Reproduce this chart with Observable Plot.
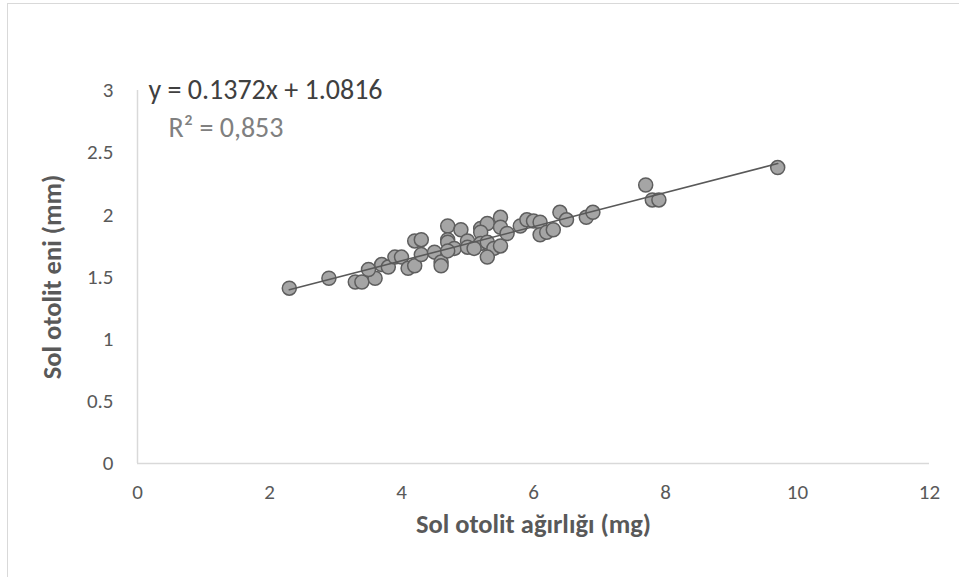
<!DOCTYPE html>
<html>
<head>
<meta charset="utf-8">
<script src="https://cdn.jsdelivr.net/npm/d3@7"></script>
<script src="https://cdn.jsdelivr.net/npm/@observablehq/plot@0.6"></script>
<style>
  html, body { margin: 0; padding: 0; background: #fff; overflow: hidden; }
  #wrap { position: relative; width: 959px; height: 577px; }
  #frame { position: absolute; left: 7px; top: 3px; width: 2000px; height: 2000px;
           border-left: 1.5px solid #d9d9d9; border-top: 1.5px solid #d9d9d9; pointer-events: none; }
  #chart { position: absolute; left: 0; top: 0; }
</style>
</head>
<body>
<div id="wrap"><div id="frame"></div><div id="chart"></div></div>
<script>
// Sol otolit ağırlığı (mg)
const weight = [2.3, 2.9, 3.3, 3.4, 3.6, 3.5, 3.7, 3.8, 3.9, 4.0, 4.1, 4.2, 4.2, 4.3, 4.3, 4.5, 4.6, 4.6,
  4.7, 4.7, 4.9, 4.7, 4.8, 5.0, 5.0, 5.2, 5.3, 5.5, 5.5, 5.2, 5.2, 5.3, 5.4, 5.5, 5.3, 5.6, 5.8, 5.9,
  6.0, 6.1, 6.1, 6.2, 6.3, 6.4, 6.5, 6.8, 6.9, 7.7, 7.8, 7.9, 9.7, 4.7, 5.1];
// Sol otolit eni (mm)
const width = [1.41, 1.49, 1.46, 1.46, 1.49, 1.56, 1.60, 1.58, 1.66, 1.66, 1.57, 1.59, 1.79, 1.80, 1.68, 1.70, 1.62, 1.59,
  1.91, 1.80, 1.88, 1.78, 1.73, 1.79, 1.74, 1.89, 1.93, 1.98, 1.90, 1.86, 1.77, 1.78, 1.73, 1.75, 1.66, 1.85, 1.91, 1.96,
  1.95, 1.94, 1.84, 1.86, 1.88, 2.02, 1.96, 1.98, 2.02, 2.24, 2.12, 2.12, 2.38, 1.71, 1.73];
const slope = 0.1372;
const intercept = 1.0816;
const r2Text = "R² = 0,853";
const xTicks = [0, 2, 4, 6, 8, 10, 12];
const yTicks = [0, 0.5, 1, 1.5, 2, 2.5, 3];
const xTitle = "Sol otolit ağırlığı (mg)";
const yTitle = "Sol otolit eni (mm)";

const points = weight.map((w, i) => ({x: w, y: width[i]}));
const xMin = d3.min(weight), xMax = d3.max(weight);
const trend = [xMin, xMax].map(x => ({x, y: slope * x + intercept}));
const eqText = `y = ${slope}x + ${intercept}`;

const FONT = "Carlito, Calibri, 'Open Sans', sans-serif";

const chart = Plot.plot({
  width: 959,
  height: 577,
  marginLeft: 137,
  marginRight: 30,
  marginTop: 90,
  marginBottom: 114,
  style: {fontFamily: FONT, fontSize: "21px", color: "#595959", background: "transparent"},
  x: {domain: [0, 12]},
  y: {domain: [0, 3]},
  marks: [
    Plot.axisX({ticks: xTicks, tickFormat: d => String(d), tickSize: 0, tickPadding: 21, label: null,
      fontSize: 21, color: "#595959", fontFamily: FONT}),
    Plot.axisY({ticks: yTicks, tickFormat: d => String(d), tickSize: 0, tickPadding: 24, label: null,
      fontSize: 21, color: "#595959", fontFamily: FONT}),
    Plot.ruleY([0], {stroke: "#d9d9d9", strokeWidth: 1.5}),
    Plot.ruleX([0], {stroke: "#d9d9d9", strokeWidth: 1.5}),
    Plot.dot(points, {x: "x", y: "y", r: 7, fill: "#a5a5a5", stroke: "#5e5e5e", strokeWidth: 1.5, fillOpacity: 1}),
    Plot.line(trend, {x: "x", y: "y", stroke: "#595959", strokeWidth: 1.6}),
    Plot.text([eqText], {frameAnchor: "top-left", textAnchor: "start", dx: 11, dy: -11,
      fontSize: 28, fill: "#404040", fontFamily: FONT}),
    Plot.text([r2Text], {frameAnchor: "top-left", textAnchor: "start", dx: 31, dy: 27,
      fontSize: 28, fill: "#808080", fontFamily: FONT}),
    Plot.text([xTitle], {frameAnchor: "bottom", textAnchor: "middle", dy: 69, fontSize: 26.5, fontWeight: "bold", fill: "#595959", fontFamily: FONT}),
    Plot.text([yTitle], {frameAnchor: "left", textAnchor: "middle", dx: -85, rotate: -90, fontSize: 26.5, fontWeight: "bold", fill: "#595959", fontFamily: FONT})
  ]
});
document.getElementById("chart").appendChild(chart);
</script>
</body>
</html>
